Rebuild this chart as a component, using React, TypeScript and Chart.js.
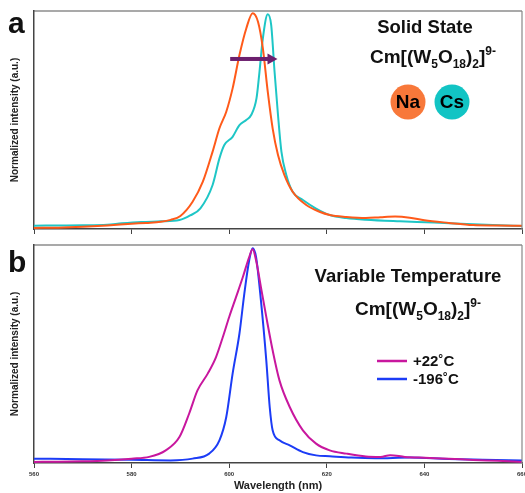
import React, { useEffect, useRef } from "react";
import { Chart, registerables } from "chart.js";

Chart.register(...registerables);

// ---------- data ----------
const WAVELENGTH_TICKS = [560, 580, 600, 620, 640, 660];

// Panel a: Na salt (orange)
const naWavelength = [560, 565, 570, 575, 580, 583, 586, 588, 590, 592.5, 594.6, 596.6, 598, 599.4, 600.7, 602.1, 603.5, 604.8, 605.9, 606.9, 607.9, 608.9, 610, 611.3, 613, 615.8, 618.5, 620.6, 624, 628, 631, 634, 637, 640, 645, 650, 655, 660];
const naIntensity = [0.005, 0.006, 0.01, 0.016, 0.024, 0.028, 0.033, 0.042, 0.06, 0.125, 0.217, 0.355, 0.462, 0.538, 0.645, 0.798, 0.92, 0.99, 0.951, 0.829, 0.63, 0.462, 0.339, 0.248, 0.171, 0.11, 0.079, 0.064, 0.055, 0.05, 0.054, 0.057, 0.052, 0.04, 0.028, 0.018, 0.016, 0.015];

// Panel a: Cs salt (cyan)
const csWavelength = [560, 565, 570, 575, 578, 582, 586, 589.8, 592, 594.1, 596.6, 598, 599, 600.7, 602.1, 603.5, 604.5, 605.6, 606.2, 606.9, 607.9, 608.6, 609.3, 610, 610.7, 611.7, 613, 615.1, 617.8, 620.6, 624, 628, 635, 642, 650, 660];
const csIntensity = [0.015, 0.016, 0.017, 0.02, 0.026, 0.032, 0.035, 0.041, 0.062, 0.095, 0.202, 0.324, 0.385, 0.423, 0.477, 0.5, 0.523, 0.6, 0.72, 0.875, 0.985, 0.936, 0.72, 0.523, 0.355, 0.248, 0.171, 0.133, 0.094, 0.064, 0.05, 0.042, 0.035, 0.03, 0.022, 0.014];

// Panel b: +22 °C (magenta)
const warmWavelength = [560, 565, 570, 575, 580, 583.6, 587, 589.8, 591.8, 593.5, 595.6, 597.3, 598.7, 600, 601.4, 602.8, 604.1, 604.8, 605.5, 606.5, 607.6, 608.9, 610.3, 612.4, 615.1, 617.8, 620.6, 624, 628, 631, 633, 636, 640, 645, 650, 655, 660];
const warmIntensity = [0.005, 0.006, 0.008, 0.012, 0.02, 0.028, 0.058, 0.119, 0.227, 0.333, 0.41, 0.486, 0.578, 0.67, 0.761, 0.853, 0.945, 0.98, 0.93, 0.807, 0.67, 0.517, 0.379, 0.257, 0.15, 0.089, 0.058, 0.043, 0.03, 0.028, 0.036, 0.028, 0.024, 0.02, 0.014, 0.01, 0.005];

// Panel b: -196 °C (blue)
const coldWavelength = [560, 570, 580, 588, 592.5, 595.9, 598, 599.4, 600.7, 602.1, 603.1, 604.1, 604.8, 605.5, 606.5, 607.6, 608.3, 608.9, 610.3, 612.4, 615.1, 617.8, 620.6, 625, 630, 637, 645, 652, 660];
const coldIntensity = [0.02, 0.017, 0.015, 0.012, 0.02, 0.043, 0.104, 0.211, 0.41, 0.594, 0.777, 0.93, 0.985, 0.945, 0.746, 0.471, 0.257, 0.15, 0.104, 0.081, 0.05, 0.035, 0.031, 0.025, 0.022, 0.025, 0.018, 0.015, 0.012];

// ---------- text ----------
const Y_TITLE = "Normalized intensity (a.u.)";
const X_TITLE = "Wavelength (nm)";
const PANEL_A = "a";
const PANEL_B = "b";
const TITLE_A = "Solid State";
const TITLE_B = "Variable Temperature";
const NA_LABEL = "Na";
const CS_LABEL = "Cs";
const WARM_LABEL = "+22˚C";
const COLD_LABEL = "-196˚C";
const FORMULA: [string, number][] = [
  ["Cm[(W", 0], ["5", 1], ["O", 0], ["18", 1], [")", 0], ["2", 1], ["]", 0], ["9-", -1],
];

// arrow annotation (data units)
const ARROW_FROM = 600.2;
const ARROW_TO = 609.9;
const ARROW_LEVEL = 0.78;

// ---------- style ----------
const FONT = "'Liberation Sans', Arial, sans-serif";
const NA_COLOR = "#FF5A1A";
const CS_COLOR = "#1EC6C6";
const NA_DOT = "#F8783A";
const CS_DOT = "#12C4C4";
const WARM_COLOR = "#C8179E";
const COLD_COLOR = "#1C3CF6";
const ARROW_COLOR = "#6C1F6E";
const AXIS_COLOR = "#444";

const toPoints = (xs: number[], ys: number[]) => xs.map((x, i) => ({ x, y: ys[i] }));

function drawFormula(ctx: CanvasRenderingContext2D, x: number, y: number, big: number, small: number) {
  let cx = x;
  ctx.textAlign = "left";
  ctx.textBaseline = "alphabetic";
  for (const [t, k] of FORMULA) {
    ctx.font = `bold ${k === 0 ? big : small}px ${FONT}`;
    const dy = k === 1 ? big * 0.24 : k === -1 ? -big * 0.42 : 0;
    ctx.fillText(t, cx, y + dy);
    cx += ctx.measureText(t).width;
  }
}

function frame(chart: any) {
  const { ctx, chartArea: a } = chart;
  ctx.save();
  ctx.strokeStyle = "#555";
  ctx.lineWidth = 1.2;
  ctx.beginPath();
  ctx.moveTo(a.left, a.top);
  ctx.lineTo(a.right, a.top);
  ctx.stroke();
  ctx.strokeStyle = "#888";
  ctx.beginPath();
  ctx.moveTo(a.right, a.top);
  ctx.lineTo(a.right, a.bottom);
  ctx.stroke();
  ctx.restore();
}

const topDecor = {
  id: "topDecor",
  afterDatasetsDraw(chart: any) {
    const { ctx, scales } = chart;
    const x1 = scales.x.getPixelForValue(ARROW_FROM);
    const x2 = scales.x.getPixelForValue(ARROW_TO);
    const y = scales.y.getPixelForValue(ARROW_LEVEL);
    ctx.save();
    ctx.fillStyle = ARROW_COLOR;
    ctx.fillRect(x1, y - 2, x2 - x1 - 9, 4);
    ctx.beginPath();
    ctx.moveTo(x2 - 10, y - 5.5);
    ctx.lineTo(x2, y);
    ctx.lineTo(x2 - 10, y + 5.5);
    ctx.closePath();
    ctx.fill();
    ctx.restore();
  },
  afterDraw(chart: any) {
    const { ctx } = chart;
    frame(chart);
    ctx.save();
    ctx.fillStyle = "#111";
    ctx.font = `bold 30px ${FONT}`;
    ctx.textAlign = "left";
    ctx.textBaseline = "alphabetic";
    ctx.fillText(PANEL_A, 8, 33);
    ctx.font = `bold 18.5px ${FONT}`;
    ctx.textAlign = "center";
    ctx.fillText(TITLE_A, 425, 33);
    drawFormula(ctx, 370, 63, 19, 12);
    const dots: [number, string, string][] = [[408, NA_DOT, NA_LABEL], [452, CS_DOT, CS_LABEL]];
    for (const [cx, col, lab] of dots) {
      ctx.fillStyle = col;
      ctx.beginPath();
      ctx.arc(cx, 102, 17.5, 0, Math.PI * 2);
      ctx.fill();
      ctx.fillStyle = "#000";
      ctx.font = `bold 19px ${FONT}`;
      ctx.textAlign = "center";
      ctx.textBaseline = "middle";
      ctx.fillText(lab, cx, 103);
    }
    ctx.restore();
  },
};

const bottomDecor = {
  id: "bottomDecor",
  afterDraw(chart: any) {
    const { ctx } = chart;
    frame(chart);
    ctx.save();
    ctx.fillStyle = "#111";
    ctx.font = `bold 30px ${FONT}`;
    ctx.textAlign = "left";
    ctx.textBaseline = "alphabetic";
    ctx.fillText(PANEL_B, 8, 32);
    ctx.font = `bold 18.5px ${FONT}`;
    ctx.textAlign = "center";
    ctx.fillText(TITLE_B, 408, 42);
    drawFormula(ctx, 355, 75, 19, 12);
    const items: [number, string, string][] = [[121, WARM_COLOR, WARM_LABEL], [139, COLD_COLOR, COLD_LABEL]];
    for (const [y, col, lab] of items) {
      ctx.strokeStyle = col;
      ctx.lineWidth = 2.5;
      ctx.beginPath();
      ctx.moveTo(377, y);
      ctx.lineTo(407, y);
      ctx.stroke();
      ctx.fillStyle = "#111";
      ctx.font = `bold 15px ${FONT}`;
      ctx.textAlign = "left";
      ctx.textBaseline = "middle";
      ctx.fillText(lab, 413, y + 1);
    }
    ctx.restore();
  },
};

function makeOptions(showLabels: boolean, xHeight: number, padTop: number) {
  return {
    animation: false,
    responsive: false,
    maintainAspectRatio: false,
    layout: { padding: { top: padTop, right: 3, left: 0, bottom: 0 } },
    plugins: { legend: { display: false }, tooltip: { enabled: false } },
    elements: { point: { radius: 0 } },
    scales: {
      x: {
        type: "linear",
        min: 560,
        max: 660,
        afterBuildTicks: (s: any) => {
          s.ticks = WAVELENGTH_TICKS.map((v) => ({ value: v }));
        },
        afterFit: (s: any) => {
          s.height = xHeight;
          s.paddingLeft = 0;
          s.paddingRight = 0;
        },
        ticks: {
          display: showLabels,
          color: "#333",
          font: { family: FONT, size: 6, weight: "bold" },
          padding: 3,
          maxRotation: 0,
        },
        grid: { display: true, drawOnChartArea: false, drawTicks: true, tickLength: 5, color: AXIS_COLOR, lineWidth: 1 },
        border: { display: true, color: AXIS_COLOR, width: 1.5 },
        title: {
          display: showLabels,
          text: X_TITLE,
          color: "#222",
          font: { family: FONT, size: 11, weight: "bold" },
          padding: { top: 0, bottom: 0 },
        },
      },
      y: {
        min: 0,
        max: 1,
        afterFit: (s: any) => {
          s.width = 34;
          s.paddingTop = 0;
          s.paddingBottom = 0;
        },
        ticks: { display: false },
        grid: { display: false, drawTicks: false },
        border: { display: true, color: AXIS_COLOR, width: 1.5 },
        title: {
          display: true,
          text: Y_TITLE,
          color: "#222",
          font: { family: FONT, size: 10, weight: "bold" },
          padding: { top: 9, bottom: 0 },
        },
      },
    },
  };
}

const lineDs = (label: string, data: any[], color: string) => ({
  label,
  data,
  borderColor: color,
  backgroundColor: color,
  borderWidth: 2,
  pointRadius: 0,
  tension: 0.3,
  cubicInterpolationMode: "monotone",
  fill: false,
});

export default function App() {
  const topRef = useRef<HTMLCanvasElement>(null);
  const botRef = useRef<HTMLCanvasElement>(null);

  useEffect(() => {
    const top = new Chart(topRef.current as HTMLCanvasElement, {
      type: "line",
      data: {
        datasets: [
          lineDs("Na", toPoints(naWavelength, naIntensity), NA_COLOR),
          lineDs("Cs", toPoints(csWavelength, csIntensity), CS_COLOR),
        ],
      },
      options: makeOptions(false, 11, 11) as any,
      plugins: [topDecor],
    } as any);
    const bot = new Chart(botRef.current as HTMLCanvasElement, {
      type: "line",
      data: {
        datasets: [
          lineDs(WARM_LABEL, toPoints(warmWavelength, warmIntensity), WARM_COLOR),
          lineDs(COLD_LABEL, toPoints(coldWavelength, coldIntensity), COLD_COLOR),
        ],
      },
      options: makeOptions(true, 30, 5) as any,
      plugins: [bottomDecor],
    } as any);
    return () => {
      top.destroy();
      bot.destroy();
    };
  }, []);

  return (
    <div style={{ position: "absolute", left: 0, top: 0, width: 525, height: 493, background: "#fff" }}>
      <canvas ref={topRef} width={525} height={240} style={{ position: "absolute", left: 0, top: 0, width: 525, height: 240 }} />
      <canvas ref={botRef} width={525} height={253} style={{ position: "absolute", left: 0, top: 240, width: 525, height: 253 }} />
    </div>
  );
}
